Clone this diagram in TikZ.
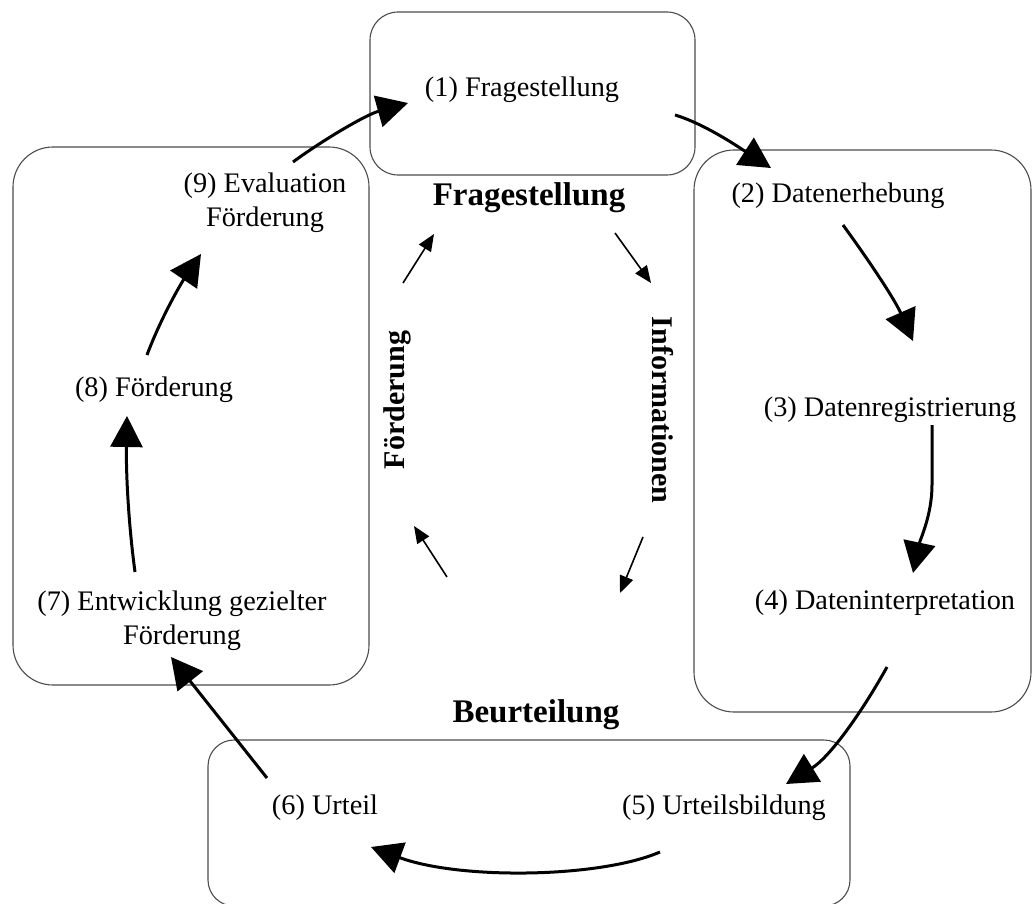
\documentclass[tikz,border=0pt]{standalone}
\usepackage{fontspec}
\setmainfont{Liberation Serif}
\usetikzlibrary{arrows.meta}
\begin{document}
\begin{tikzpicture}[x=1pt,y=-1pt,
  box/.style={draw=black!70, line width=1.1pt},
  lbl/.style={font=\fontsize{28.3}{34}\selectfont, align=center, inner sep=0pt},
  hdr/.style={font=\fontsize{33}{38}\selectfont\bfseries, inner sep=0pt},
  vhdr/.style={font=\fontsize{30}{36}\selectfont\bfseries, inner sep=0pt},
  big/.style={line width=3pt, -{Triangle[length=31pt,width=32pt]}},
  small/.style={line width=1.6pt, -{Triangle[length=17pt,width=14pt]}}]
\useasboundingbox (0,0) rectangle (1034,904);
\fill[white] (0,0) rectangle (1034,904);

% boxes
\draw[box, rounded corners=28pt] (370,12) rectangle (695,175);
\draw[box, rounded corners=40pt] (13,147) rectangle (369,685);
\draw[box, rounded corners=40pt] (694,150) rectangle (1031,712);
\draw[box, rounded corners=26pt] (208,740) rectangle (850,906);

% step labels
\node[lbl] (n1) at (522,90) {(1) Fragestellung};
\node[lbl] (n2) at (838,196) {(2) Datenerhebung};
\node[lbl] (n3) at (890,410) {(3) Datenregistrierung};
\node[lbl] (n4) at (885,603) {(4) Dateninterpretation};
\node[lbl] (n5) at (724,808) {(5) Urteilsbildung};
\node[lbl] (n6) at (325,808) {(6) Urteil};
\node[lbl] (n7) at (182,621) {(7) Entwicklung gezielter\\Förderung};
\node[lbl] (n8) at (154,390) {(8) Förderung};
\node[lbl] (n9) at (265,203) {(9) Evaluation\\Förderung};

% phase labels
\node[hdr] (pF) at (529,198) {Fragestellung};
\node[vhdr, rotate=-90] (pI) at (663,410) {Informationen};
\node[hdr] (pB) at (536,715) {Beurteilung};
\node[vhdr, rotate=90] (pD) at (397,400) {Förderung};

% connector end points
\coordinate (a1s) at (293,162); \coordinate (a1e) at (408,103);
\coordinate (a2s) at (675,115); \coordinate (a2e) at (771,168);
\coordinate (a3s) at (843,225); \coordinate (a3e) at (913,341);
\coordinate (a4s) at (932,425); \coordinate (a4e) at (913,573);
\coordinate (a5s) at (887,667); \coordinate (a5e) at (786,784);
\coordinate (a6s) at (660,852); \coordinate (a6e) at (371,847);
\coordinate (a7s) at (267,778); \coordinate (a7e) at (171,657);
\coordinate (a8s) at (135,572); \coordinate (a8e) at (127,416);
\coordinate (a9s) at (147,355); \coordinate (a9e) at (201,254);

% main cycle
\draw[big] (a1s) .. controls (320,142) and (365,115) .. (a1e);
\draw[big] (a2s) .. controls (705,124) and (740,148) .. (a2e);
\draw[big] (a3s) .. controls (870,262) and (895,300) .. (a3e);
\draw[big] (a4s) -- (932,485) .. controls (932,515) and (920,540) .. (a4e);
\draw[big] (a5s) .. controls (862,712) and (830,757) .. (a5e);
\draw[big] (a6s) .. controls (600,878) and (460,880) .. (a6e);
\draw[big] (a7s) -- (a7e);
\draw[big] (a8s) .. controls (128,520) and (126,470) .. (a8e);
\draw[big] (a9s) .. controls (160,320) and (180,285) .. (a9e);

% inner cycle
\coordinate (i1s) at (615,233); \coordinate (i1e) at (651,283);
\coordinate (i2s) at (643,537); \coordinate (i2e) at (620,593);
\coordinate (i3s) at (447,577); \coordinate (i3e) at (414,526);
\coordinate (i4s) at (403,283); \coordinate (i4e) at (434,234);
\draw[small] (i1s) -- (i1e);
\draw[small] (i2s) -- (i2e);
\draw[small] (i3s) -- (i3e);
\draw[small] (i4s) -- (i4e);
\end{tikzpicture}
\end{document}
